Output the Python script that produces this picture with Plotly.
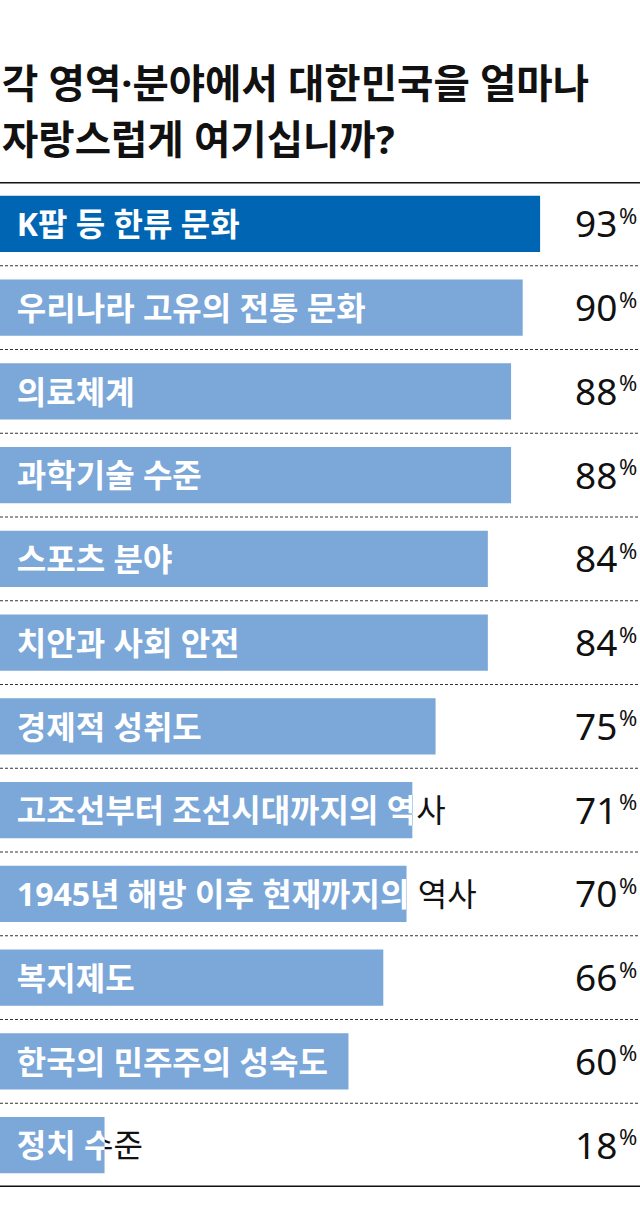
import plotly.graph_objects as go

# ---------------- data ----------------
categories = [
    "K팝 등 한류 문화",
    "우리나라 고유의 전통 문화",
    "의료체계",
    "과학기술 수준",
    "스포츠 분야",
    "치안과 사회 안전",
    "경제적 성취도",
    "고조선부터 조선시대까지의 역사",
    "1945년 해방 이후 현재까지의 역사",
    "복지제도",
    "한국의 민주주의 성숙도",
    "정치 수준",
]
values = [93, 90, 88, 88, 84, 84, 75, 71, 70, 66, 60, 18]
highlighted = ["K팝 등 한류 문화"]
title_lines = ["각 영역·분야에서 대한민국을 얼마나", "자랑스럽게 여기십니까?"]
value_suffix = "%"

# ---------------- layout constants ----------------
W, H = 640, 1221
M_T, M_B = 182, 34
XMAX = 110.2          # x range so that 100% ~ 580px
LABEL_X = 2.9         # label start (data units) ~17px
LABEL_SHIFT = 0.05    # label baseline nudge (category units)
DARK = "#0066b3"
LIGHT = "#7ba7d9"
KFONT = "Noto Sans, Noto Sans CJK KR"
NFONT = "Noto Sans"
LABEL_SIZE = 32

n = len(categories)
plot_h = H - M_T - M_B


def py_to_paper(py):
    return (H - M_B - py) / plot_h


fig = go.Figure()

# black label layer (main subplot, under the bars)
fig.add_trace(go.Scatter(
    x=[LABEL_X] * n, y=categories, mode="text", text=categories,
    textposition="middle right",
    textfont=dict(family=KFONT, size=LABEL_SIZE, color="#111111", weight=400),
    xaxis="x", yaxis="y", hoverinfo="skip", showlegend=False,
))

# bars (overlay axes so they are drawn above the black labels)
fig.add_trace(go.Bar(
    x=values, y=categories, orientation="h",
    marker=dict(color=[DARK if c in highlighted else LIGHT for c in categories],
                line=dict(width=0)),
    xaxis="x2", yaxis="y2", hoverinfo="skip", showlegend=False,
))

layout_axes = {}
# white label layer, clipped to each bar through its own x axis
for k, (c, v) in enumerate(zip(categories, values)):
    ax_id = k + 3
    fig.add_trace(go.Scatter(
        x=[LABEL_X], y=[c], mode="text", text=[c],
        textposition="middle right", cliponaxis=True,
        textfont=dict(family=KFONT, size=LABEL_SIZE, color="#ffffff", weight="bold"),
        xaxis=f"x{ax_id}", yaxis="y", hoverinfo="skip", showlegend=False,
    ))
    layout_axes[f"xaxis{ax_id}"] = dict(
        domain=[0, v / XMAX], range=[0, v], anchor="y",
        visible=False, fixedrange=True,
    )

annotations = []
for c, v in zip(categories, values):
    annotations.append(dict(
        x=619 / W, xref="paper", xanchor="right",
        y=c, yref="y2", yanchor="middle", yshift=1,
        text=str(v), showarrow=False,
        font=dict(family=NFONT, size=37, color="#111111"),
    ))
    annotations.append(dict(
        x=639 / W, xref="paper", xanchor="right",
        y=c, yref="y2", yanchor="middle", yshift=9,
        text=value_suffix, showarrow=False,
        font=dict(family=NFONT, size=22, color="#111111"),
    ))

for line, py in zip(title_lines, [83, 139]):
    annotations.append(dict(
        x=0, xref="paper", xanchor="left",
        y=py_to_paper(py), yref="paper", yanchor="middle",
        text=line, showarrow=False,
        font=dict(family=KFONT, size=39.5, color="#111111", weight="bold"),
    ))

shapes = []
for i in range(n - 1):
    shapes.append(dict(
        type="line", xref="paper", x0=0, x1=1, yref="y2", y0=i + 0.5, y1=i + 0.5,
        line=dict(color="#333333", width=1, dash="3px,2px"), layer="below",
    ))
for yb in (-0.5, n - 0.5):
    shapes.append(dict(
        type="line", xref="paper", x0=0, x1=1, yref="y2", y0=yb, y1=yb,
        line=dict(color="#111111", width=3), layer="above",
    ))

fig.update_layout(
    width=W, height=H,
    margin=dict(l=0, r=0, t=M_T, b=M_B, pad=0),
    paper_bgcolor="#ffffff", plot_bgcolor="rgba(0,0,0,0)",
    bargap=0.33, showlegend=False,
    xaxis=dict(domain=[0, 1], range=[0, XMAX], visible=False, fixedrange=True),
    xaxis2=dict(overlaying="x", range=[0, XMAX], visible=False, fixedrange=True, anchor="y2"),
    yaxis=dict(type="category", categoryorder="array", categoryarray=categories,
               range=[n - 0.5 - LABEL_SHIFT, -0.5 - LABEL_SHIFT],
               visible=False, fixedrange=True),
    yaxis2=dict(type="category", categoryorder="array", categoryarray=categories,
                overlaying="y", range=[n - 0.5, -0.5], anchor="x2",
                visible=False, fixedrange=True),
    annotations=annotations, shapes=shapes,
    **layout_axes,
)

fig.write_html(
    "out.html",
    config={"displayModeBar": False},
    post_script="document.body.style.margin='0';document.body.style.padding='0';",
)
